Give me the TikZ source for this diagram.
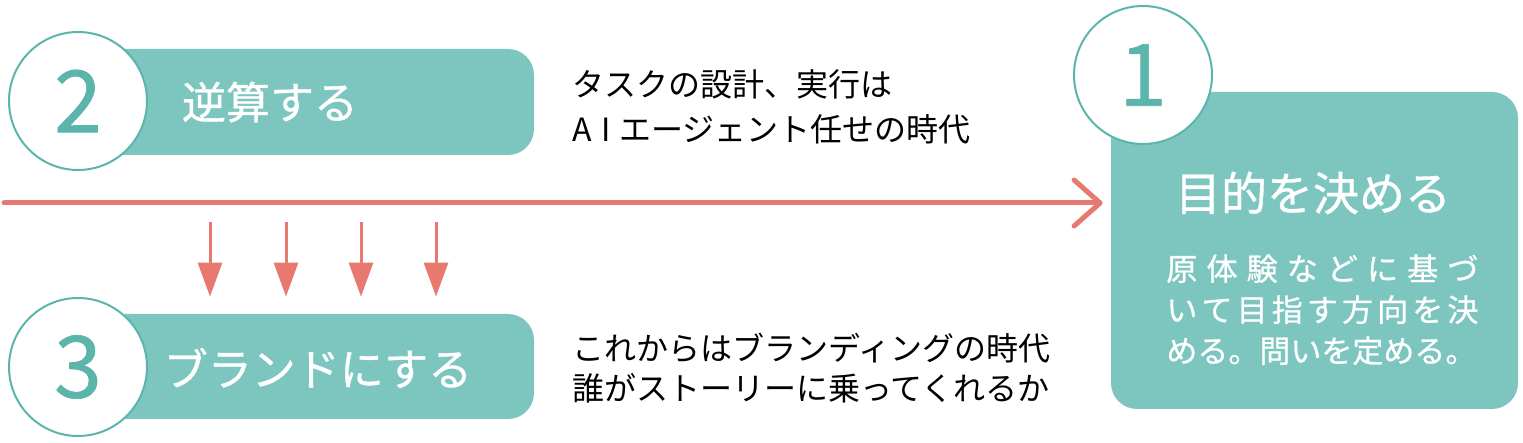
\documentclass[tikz,border=0pt]{standalone}
\usepackage{fontspec}
\setmainfont{Noto Sans CJK JP}
\newfontfamily\heavy[FakeBold=0.8]{Noto Sans CJK JP}
\usetikzlibrary{arrows.meta,positioning}
\definecolor{tealfill}{HTML}{7DC6C0}
\definecolor{tealdark}{HTML}{5BB5AB}
\definecolor{salmon}{HTML}{E8796F}
\tikzset{
  bar/.style={fill=tealfill, rounded corners=13pt, inner sep=0pt},
  num/.style={circle, draw=tealdark, fill=white, line width=1pt, minimum size=69pt, inner sep=0pt, text=tealdark, font=\heavy\fontsize{43}{43}\selectfont},
  head/.style={text=white, inner sep=0pt, font=\heavy\fontsize{22}{26}\selectfont},
  note/.style={anchor=west, align=left, inner sep=0pt},
  body/.style={text=white, anchor=north west, inner sep=0pt, text width=156pt, align=justify, font=\heavy\fontsize{15.5}{20.5}\selectfont},
  flow/.style={draw=salmon, line width=2.5pt, line cap=round, shorten >=4pt, -{Straight Barb[length=13pt,width=23pt,round]}},
  push/.style={draw=salmon, line width=1.5pt, shorten >=8.5pt, -{Triangle[length=17pt,width=12pt]}},
}
\begin{document}
\begin{tikzpicture}[x=0.5pt,y=-0.5pt]
			\useasboundingbox (0,0) rectangle (1523,443);
			%%%%% START %%%%%
			
			\node[bar, minimum width=228pt, minimum height=53pt] (bar2) at (306,102) {};
			\node[bar, minimum width=228pt, minimum height=52.5pt] (bar3) at (306,366.5) {};
			\node[bar, minimum width=203.5pt, minimum height=158.5pt] (box1) at (1314.5,250.5) {};
			
			\node[num] (num2) at (78,101) {2};
			\node[num] (num3) at (78,367) {3};
			\node[num] (num1) at (1143,75) {1};
			
			\node[head] (head2) at (270,102) {逆算する};
			\node[head] (head3) at (318,368) {ブランドにする};
			\node[head, font=\heavy\fontsize{23}{26}\selectfont] (head1) at (1313,193) {目的を決める};
			
			\node[body] (body1) at (1166,254) {\XeTeXlinebreaklocale "ja"\XeTeXlinebreakskip=0pt plus 20pt 原体験などに基づ\linebreak いて目指す方向を決\linebreak める。問いを定める。};
			
			\node[note, font=\fontsize{16}{22.5}\selectfont] (note2) at (572,107) {タスクの設計、実行は\\A\hspace{5pt}I\hspace{4pt}エージェント任せの時代};
			\node[note, font=\fontsize{16}{20}\selectfont] (note3) at (572,368) {これからはブランディングの時代\\誰がストーリーに乗ってくれるか};
			
			\coordinate (start) at (4,203);
			\draw[flow] (start) -- (box1.west |- start);
			
			\coordinate (drop1) at (210,222);
			\coordinate (drop2) at (286,222);
			\coordinate (drop3) at (361,222);
			\coordinate (drop4) at (436,222);
			\draw[push] (drop1) -- (drop1 |- bar3.north);
			\draw[push] (drop2) -- (drop2 |- bar3.north);
			\draw[push] (drop3) -- (drop3 |- bar3.north);
			\draw[push] (drop4) -- (drop4 |- bar3.north);
			
			%%%%% END %%%%%
\end{tikzpicture}
\end{document}
